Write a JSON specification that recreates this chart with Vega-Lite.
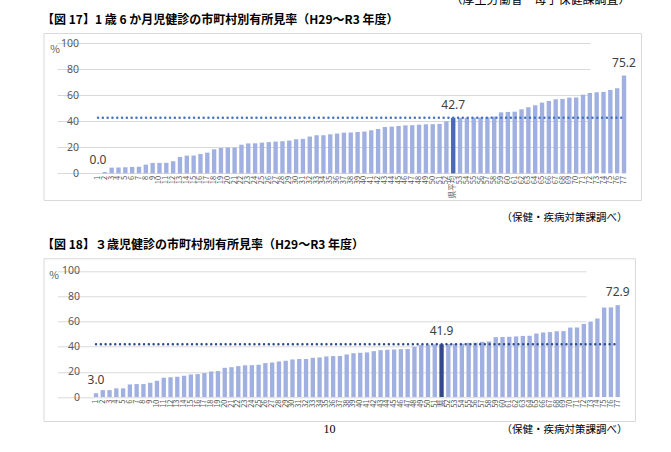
{
  "$schema": "https://vega.github.io/schema/vega-lite/v6.json",
  "padding": {"left": 41.5, "top": -6, "right": 0, "bottom": 0},
  "background": "white",
  "config": {
    "font": "Noto Sans CJK JP",
    "view": {"stroke": "#d9d9d9", "strokeWidth": 1},
    "axis": {"labelFont": "Noto Sans", "labelColor": "#595959", "domain": false, "ticks": false, "tickSize": 0, "grid": false}
  },
  "title": {"text": "（厚生労働省・母子保健課調査）", "orient": "top", "anchor": "end", "frame": "bounds", "baseline": "alphabetic", "offset": -3, "dx": -11, "fontSize": 12, "fontWeight": "normal", "color": "#000000"},
  "datasets": {
    "c1": [
      {"label": "1", "value": 0.0, "kind": "市町村"},
      {"label": "2", "value": 1.0, "kind": "市町村"},
      {"label": "3", "value": 4.4, "kind": "市町村"},
      {"label": "4", "value": 4.4, "kind": "市町村"},
      {"label": "5", "value": 4.6, "kind": "市町村"},
      {"label": "6", "value": 4.9, "kind": "市町村"},
      {"label": "7", "value": 5.1, "kind": "市町村"},
      {"label": "8", "value": 6.7, "kind": "市町村"},
      {"label": "9", "value": 8.0, "kind": "市町村"},
      {"label": "10", "value": 8.0, "kind": "市町村"},
      {"label": "11", "value": 8.1, "kind": "市町村"},
      {"label": "12", "value": 9.3, "kind": "市町村"},
      {"label": "13", "value": 12.6, "kind": "市町村"},
      {"label": "14", "value": 13.6, "kind": "市町村"},
      {"label": "15", "value": 13.7, "kind": "市町村"},
      {"label": "16", "value": 14.9, "kind": "市町村"},
      {"label": "17", "value": 15.9, "kind": "市町村"},
      {"label": "18", "value": 18.5, "kind": "市町村"},
      {"label": "19", "value": 19.5, "kind": "市町村"},
      {"label": "20", "value": 19.8, "kind": "市町村"},
      {"label": "21", "value": 19.8, "kind": "市町村"},
      {"label": "22", "value": 22.0, "kind": "市町村"},
      {"label": "23", "value": 23.0, "kind": "市町村"},
      {"label": "24", "value": 23.1, "kind": "市町村"},
      {"label": "25", "value": 23.6, "kind": "市町村"},
      {"label": "26", "value": 24.0, "kind": "市町村"},
      {"label": "27", "value": 24.4, "kind": "市町村"},
      {"label": "28", "value": 24.7, "kind": "市町村"},
      {"label": "29", "value": 25.2, "kind": "市町村"},
      {"label": "30", "value": 26.2, "kind": "市町村"},
      {"label": "31", "value": 26.5, "kind": "市町村"},
      {"label": "32", "value": 28.3, "kind": "市町村"},
      {"label": "33", "value": 29.3, "kind": "市町村"},
      {"label": "34", "value": 29.3, "kind": "市町村"},
      {"label": "35", "value": 30.0, "kind": "市町村"},
      {"label": "36", "value": 30.6, "kind": "市町村"},
      {"label": "37", "value": 31.3, "kind": "市町村"},
      {"label": "38", "value": 31.4, "kind": "市町村"},
      {"label": "39", "value": 31.8, "kind": "市町村"},
      {"label": "40", "value": 32.1, "kind": "市町村"},
      {"label": "41", "value": 33.1, "kind": "市町村"},
      {"label": "42", "value": 34.1, "kind": "市町村"},
      {"label": "43", "value": 35.6, "kind": "市町村"},
      {"label": "44", "value": 35.9, "kind": "市町村"},
      {"label": "45", "value": 36.4, "kind": "市町村"},
      {"label": "46", "value": 36.9, "kind": "市町村"},
      {"label": "47", "value": 37.0, "kind": "市町村"},
      {"label": "48", "value": 37.4, "kind": "市町村"},
      {"label": "49", "value": 37.7, "kind": "市町村"},
      {"label": "50", "value": 37.8, "kind": "市町村"},
      {"label": "51", "value": 38.0, "kind": "市町村"},
      {"label": "52", "value": 40.0, "kind": "市町村"},
      {"label": "県平均", "value": 42.7, "kind": "県"},
      {"label": "53", "value": 42.7, "kind": "市町村"},
      {"label": "54", "value": 42.7, "kind": "市町村"},
      {"label": "55", "value": 42.8, "kind": "市町村"},
      {"label": "56", "value": 42.9, "kind": "市町村"},
      {"label": "57", "value": 43.1, "kind": "市町村"},
      {"label": "58", "value": 43.6, "kind": "市町村"},
      {"label": "59", "value": 46.9, "kind": "市町村"},
      {"label": "60", "value": 47.2, "kind": "市町村"},
      {"label": "61", "value": 47.4, "kind": "市町村"},
      {"label": "62", "value": 49.2, "kind": "市町村"},
      {"label": "63", "value": 50.8, "kind": "市町村"},
      {"label": "64", "value": 52.3, "kind": "市町村"},
      {"label": "65", "value": 54.4, "kind": "市町村"},
      {"label": "66", "value": 55.6, "kind": "市町村"},
      {"label": "67", "value": 56.9, "kind": "市町村"},
      {"label": "68", "value": 57.2, "kind": "市町村"},
      {"label": "69", "value": 58.2, "kind": "市町村"},
      {"label": "70", "value": 58.3, "kind": "市町村"},
      {"label": "71", "value": 60.5, "kind": "市町村"},
      {"label": "72", "value": 61.8, "kind": "市町村"},
      {"label": "73", "value": 62.3, "kind": "市町村"},
      {"label": "74", "value": 62.6, "kind": "市町村"},
      {"label": "75", "value": 64.1, "kind": "市町村"},
      {"label": "76", "value": 65.4, "kind": "市町村"},
      {"label": "77", "value": 75.2, "kind": "市町村"}
    ],
    "c2": [
      {"label": "1", "value": 3.0, "kind": "市町村"},
      {"label": "2", "value": 5.5, "kind": "市町村"},
      {"label": "3", "value": 5.5, "kind": "市町村"},
      {"label": "4", "value": 6.9, "kind": "市町村"},
      {"label": "5", "value": 6.9, "kind": "市町村"},
      {"label": "6", "value": 10.0, "kind": "市町村"},
      {"label": "7", "value": 10.3, "kind": "市町村"},
      {"label": "8", "value": 10.3, "kind": "市町村"},
      {"label": "9", "value": 11.3, "kind": "市町村"},
      {"label": "10", "value": 12.9, "kind": "市町村"},
      {"label": "11", "value": 15.3, "kind": "市町村"},
      {"label": "12", "value": 15.8, "kind": "市町村"},
      {"label": "13", "value": 16.1, "kind": "市町村"},
      {"label": "14", "value": 16.9, "kind": "市町村"},
      {"label": "15", "value": 17.9, "kind": "市町村"},
      {"label": "16", "value": 18.2, "kind": "市町村"},
      {"label": "17", "value": 19.0, "kind": "市町村"},
      {"label": "18", "value": 20.3, "kind": "市町村"},
      {"label": "19", "value": 20.6, "kind": "市町村"},
      {"label": "20", "value": 23.2, "kind": "市町村"},
      {"label": "21", "value": 23.7, "kind": "市町村"},
      {"label": "22", "value": 24.5, "kind": "市町村"},
      {"label": "23", "value": 25.2, "kind": "市町村"},
      {"label": "24", "value": 25.3, "kind": "市町村"},
      {"label": "25", "value": 25.6, "kind": "市町村"},
      {"label": "26", "value": 26.9, "kind": "市町村"},
      {"label": "27", "value": 27.4, "kind": "市町村"},
      {"label": "28", "value": 28.2, "kind": "市町村"},
      {"label": "29", "value": 28.8, "kind": "市町村"},
      {"label": "30", "value": 29.8, "kind": "市町村"},
      {"label": "31", "value": 30.1, "kind": "市町村"},
      {"label": "32", "value": 30.2, "kind": "市町村"},
      {"label": "33", "value": 31.1, "kind": "市町村"},
      {"label": "34", "value": 31.4, "kind": "市町村"},
      {"label": "35", "value": 32.2, "kind": "市町村"},
      {"label": "36", "value": 32.5, "kind": "市町村"},
      {"label": "37", "value": 32.6, "kind": "市町村"},
      {"label": "38", "value": 33.8, "kind": "市町村"},
      {"label": "39", "value": 34.8, "kind": "市町村"},
      {"label": "40", "value": 35.1, "kind": "市町村"},
      {"label": "41", "value": 35.4, "kind": "市町村"},
      {"label": "42", "value": 36.4, "kind": "市町村"},
      {"label": "43", "value": 37.2, "kind": "市町村"},
      {"label": "44", "value": 37.5, "kind": "市町村"},
      {"label": "45", "value": 37.7, "kind": "市町村"},
      {"label": "46", "value": 38.0, "kind": "市町村"},
      {"label": "47", "value": 38.1, "kind": "市町村"},
      {"label": "48", "value": 39.8, "kind": "市町村"},
      {"label": "49", "value": 41.2, "kind": "市町村"},
      {"label": "50", "value": 41.4, "kind": "市町村"},
      {"label": "51", "value": 41.7, "kind": "市町村"},
      {"label": "県", "value": 41.9, "kind": "県"},
      {"label": "52", "value": 42.0, "kind": "市町村"},
      {"label": "53", "value": 42.2, "kind": "市町村"},
      {"label": "54", "value": 42.3, "kind": "市町村"},
      {"label": "55", "value": 43.0, "kind": "市町村"},
      {"label": "56", "value": 43.1, "kind": "市町村"},
      {"label": "57", "value": 43.8, "kind": "市町村"},
      {"label": "58", "value": 44.1, "kind": "市町村"},
      {"label": "59", "value": 47.5, "kind": "市町村"},
      {"label": "60", "value": 47.6, "kind": "市町村"},
      {"label": "61", "value": 47.8, "kind": "市町村"},
      {"label": "62", "value": 48.1, "kind": "市町村"},
      {"label": "63", "value": 48.5, "kind": "市町村"},
      {"label": "64", "value": 48.6, "kind": "市町村"},
      {"label": "65", "value": 50.4, "kind": "市町村"},
      {"label": "66", "value": 51.2, "kind": "市町村"},
      {"label": "67", "value": 51.5, "kind": "市町村"},
      {"label": "68", "value": 52.2, "kind": "市町村"},
      {"label": "69", "value": 52.3, "kind": "市町村"},
      {"label": "70", "value": 55.1, "kind": "市町村"},
      {"label": "71", "value": 55.2, "kind": "市町村"},
      {"label": "72", "value": 58.0, "kind": "市町村"},
      {"label": "73", "value": 59.9, "kind": "市町村"},
      {"label": "74", "value": 62.3, "kind": "市町村"},
      {"label": "75", "value": 71.0, "kind": "市町村"},
      {"label": "76", "value": 71.1, "kind": "市町村"},
      {"label": "77", "value": 72.9, "kind": "市町村"}
    ]
  },
  "vconcat": [
    {
      "spacing": 58.3,
      "bounds": "flush",
      "title": {"text": "10", "orient": "bottom", "anchor": "middle", "frame": "bounds", "font": "Liberation Serif", "fontSize": 12, "fontWeight": "normal", "color": "#000000", "baseline": "middle", "offset": -6, "dx": -12},
      "vconcat": [
        {
          "width": 597.5,
          "height": 167,
          "title": {"text": "【図 17】1 歳 6 か月児健診の市町村別有所見率（H29～R3 年度）", "anchor": "start", "frame": "group", "baseline": "alphabetic", "offset": -2.5, "fontSize": 12, "fontWeight": "bold", "color": "#000000", "dx": -1.5},
          "data": {"name": "c1"},
          "resolve": {"axis": {"y": "independent"}},
          "layer": [
            {
              "mark": {"type": "bar"},
              "encoding": {
                "x": {"field": "label", "type": "nominal", "sort": null,
                  "scale": {"range": [51.08, 583.92], "paddingInner": 0.36, "paddingOuter": 0.18},
                  "axis": {"labelAngle": -90, "labelFontSize": 7.5, "labelPadding": 2, "offset": -26.7, "labelOverlap": false, "labelFont": "Noto Sans CJK JP",
                    "title": "（保健・疾病対策課調べ）", "titleX": 583.5, "titleY": 43.7, "titleAlign": "right", "titleAnchor": null, "titleBaseline": "middle", "titleFontSize": 10.5, "titleFontWeight": "normal", "titleColor": "#000000"}},
                "y": {"field": "value", "type": "quantitative",
                  "scale": {"domain": [-20.5, 107.9], "nice": false, "zero": false},
                  "axis": {"orient": "left", "values": [0, 20, 40, 60, 80, 100], "grid": false, "labelOverlap": false, "labelFontSize": 10.5, "labelPadding": 0, "offset": -35,
                    "title": "%", "titleAngle": 0, "titleX": -24, "titleY": 16, "titleAlign": "center", "titleBaseline": "middle", "titleFontSize": 10.5, "titleFontWeight": "normal", "titleColor": "#595959"}},
                "color": {"condition": {"test": "datum.kind === '県'", "value": "#4a6ab2"}, "value": "#a0b0e0"}
              }
            },
            {
              "transform": [{"filter": "datum.kind === '県'"}],
              "mark": {"type": "rule", "color": "#4472c4", "strokeWidth": 2.4, "strokeDash": [0.1, 4.7], "strokeCap": "round"},
              "encoding": {
                "y": {"field": "value", "type": "quantitative",
                  "axis": {"orient": "right", "values": [0, 20, 40, 60, 80, 100], "grid": true, "gridColor": "#d9d9d9", "gridWidth": 1, "gridOpacity": 1, "labels": false, "title": null, "offset": 0}},
                "x": {"datum": "1", "type": "nominal", "bandPosition": 0.5},
                "x2": {"datum": "77", "bandPosition": 0.5}
              }
            },
            {
              "transform": [{"filter": "datum.label === '1' || datum.label === '77' || datum.kind === '県'"}],
              "mark": {"type": "text", "baseline": "alphabetic", "dy": -9, "fontSize": 12, "color": "#404040", "font": "Noto Sans"},
              "encoding": {
                "x": {"field": "label", "type": "nominal", "sort": null},
                "y": {"field": "value", "type": "quantitative", "axis": null},
                "text": {"field": "value", "type": "quantitative", "format": ".1f"}
              }
            }
          ]
        },
        {
          "width": 591.5,
          "height": 162.7,
          "title": {"text": "【図 18】３歳児健診の市町村別有所見率（H29～R3 年度）", "anchor": "start", "frame": "group", "baseline": "alphabetic", "offset": -2.5, "fontSize": 12, "fontWeight": "bold", "color": "#000000", "dx": -1.5},
          "data": {"name": "c2"},
          "resolve": {"axis": {"y": "independent"}},
          "layer": [
            {
              "mark": {"type": "bar"},
              "encoding": {
                "x": {"field": "label", "type": "nominal", "sort": null,
                  "scale": {"range": [49.11, 577.59], "paddingInner": 0.36, "paddingOuter": 0.18},
                  "axis": {"labelAngle": -90, "labelFontSize": 7.5, "labelPadding": 2, "offset": -24, "labelOverlap": false, "labelFont": "Noto Sans CJK JP",
                    "title": "（保健・疾病対策課調べ）", "titleX": 583.5, "titleY": 32, "titleAlign": "right", "titleAnchor": null, "titleBaseline": "middle", "titleFontSize": 10.5, "titleFontWeight": "normal", "titleColor": "#000000"}},
                "y": {"field": "value", "type": "quantitative",
                  "scale": {"domain": [-19.0, 110.06], "nice": false, "zero": false},
                  "axis": {"orient": "left", "values": [0, 20, 40, 60, 80, 100], "grid": false, "labelOverlap": false, "labelFontSize": 10.5, "labelPadding": 0, "offset": -36,
                    "title": "%", "titleAngle": 0, "titleX": -26, "titleY": 17.5, "titleAlign": "center", "titleBaseline": "middle", "titleFontSize": 10.5, "titleFontWeight": "normal", "titleColor": "#595959"}},
                "color": {"condition": {"test": "datum.kind === '県'", "value": "#34498a"}, "value": "#a0b0e0"}
              }
            },
            {
              "transform": [{"filter": "datum.kind === '県'"}],
              "mark": {"type": "rule", "color": "#2f4b8c", "strokeWidth": 2.4, "strokeDash": [0.1, 4.7], "strokeCap": "round"},
              "encoding": {
                "y": {"field": "value", "type": "quantitative",
                  "axis": {"orient": "right", "values": [0, 20, 40, 60, 80, 100], "grid": true, "gridColor": "#d9d9d9", "gridWidth": 1, "gridOpacity": 1, "labels": false, "title": null, "offset": 0}},
                "x": {"datum": "1", "type": "nominal", "bandPosition": 0.5},
                "x2": {"datum": "77", "bandPosition": 0.5}
              }
            },
            {
              "transform": [{"filter": "datum.label === '1' || datum.label === '77' || datum.kind === '県'"}],
              "mark": {"type": "text", "baseline": "alphabetic", "dy": -9, "fontSize": 12, "color": "#404040", "font": "Noto Sans"},
              "encoding": {
                "x": {"field": "label", "type": "nominal", "sort": null},
                "y": {"field": "value", "type": "quantitative", "axis": null},
                "text": {"field": "value", "type": "quantitative", "format": ".1f"}
              }
            }
          ]
        }
      ]
    }
  ]
}
